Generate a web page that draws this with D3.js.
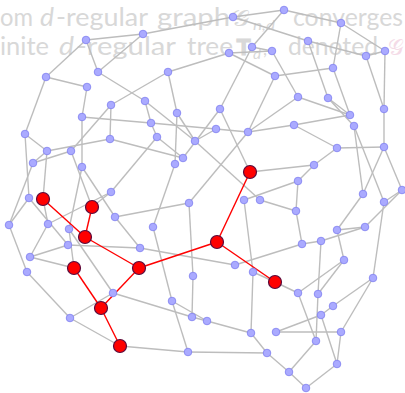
<!DOCTYPE html>
<html>
<head>
<meta charset="utf-8">
<script src="https://cdn.jsdelivr.net/npm/d3@7/dist/d3.min.js"></script>
<style>
  html, body { margin: 0; padding: 0; background: #ffffff; }
  svg { display: block; }
</style>
</head>
<body>
<svg id="chart" width="405" height="393"></svg>
<script>
// Vertex ids and their layout coordinates (layout units)
const nodeIds = ["A","B","C","D","E","F","G","H","I","J","K","L","M","N","O","P","Q","R","S","T","U","V","W","X","Y","Z","a","b","c","d","e","f","g","h","i","j","k","l","m","n","o","p","q",
  "r1","n45","r2","n47","n48","n49","n50","n51","r3","n53","n54","n55","n56","n57","n58","r4","r5","n61","r6","n63","n64","n65","n66","n67","n68","n69","n70","n71","n72","n73","n74","r7","n76","n77","n78","r8","n80","n81","r9","n83","r10","n85","n86","n87","n88","n89","n90","n91","n92","n93","n94","n95","n96","n97","n98","n99","n100"];
const nodeX = [233,284,341,86,143,252,272,229,308,366,385,46,98,87,168,145,111,82,177,151,25,157,110,195,47,71,183,275,333,298,328,220,384,350,354,294,216,248,337,384,33,82,175,
  43,29,92,111,115,9,48,69,85,153,68,140,189,30,27,74,139,193,250,314,298,244,260,296,363,384,402,337,365,302,321,217,344,235,253,275,373,113,101,70,120,172,192,188,298,318,333,321,207,251,276,341,316,267,337,289,306];
const nodeY = [17,10,23,40,34,47,51,53,41,56,51,77,72,87,72,101,105,117,113,123,134,137,139,141,151,151,158,76,68,97,98,109,109,115,126,125,129,132,148,147,163,167,164,
  199,198,207,192,217,225,224,229,237,227,245,248,203,257,272,268,268,276,172,165,181,200,200,211,194,202,190,230,227,244,241,242,260,265,272,282,278,293,308,318,346,301,317,352,293,294,306,315,321,333,332,332,341,353,364,372,388];

// Edges of the d-regular graph
const edgeList = [
  ["A","B"],["A","E"],["A","I"],["B","C"],["B","F"],["C","K"],["C","c"],["D","E"],["D","L"],["D","M"],["E","M"],
  ["F","G"],["F","f"],["G","H"],["G","d"],["H","O"],["H","b"],["I","J"],["I","e"],["J","K"],["J","g"],["K","g"],
  ["L","N"],["L","U"],["M","P"],["N","R"],["R","p"],["R","T"],["T","k"],["P","T"],["T","V"],["Q","O"],["Q","W"],["Q","Z"],
  ["W","Y"],["W","a"],["U","Y"],["P","X"],["V","a"],["O","S"],["S","X"],["S","q"],["a","f"],["k","X"],["k","l"],["l","j"],
  ["l","b"],["l","d"],["b","c"],["f","r6"],["c","h"],["d","h"],["e","h"],["e","i"],["j","h"],["j","m"],["i","n68"],["i","n69"],["g","n"],
  ["m","n"],["n","n70"],["n","n68"],["m","n63"],["r6","n63"],["n63","n64"],["n64","n65"],["n64","n67"],["n66","n67"],["n67","n73"],["X","n66"],
  ["V","n47"],["Y","o"],["Z","o"],["o","n49"],["n45","n49"],["n45","n54"],["U","n45"],["r1","Y"],["r1","n50"],["n47","n50"],
  ["r2","n47"],["r2","Z"],["p","n51"],["p","n48"],["n48","n56"],["n48","n55"],["n54","n55"],["n54","n57"],["n50","n57"],
  ["n57","r4"],["r4","n51"],["n55","n77"],["n49","n58"],["n58","n83"],["n83","r10"],["n83","n81"],["n81","n51"],["n81","n86"],
  ["r10","n87"],["n56","l"],["n56","n61"],["n61","n86"],["q","n53"],["n53","n85"],["n85","n92"],["n86","n92"],["n85","n87"],
  ["n87","n97"],["n65","n78"],["n68","n71"],["n69","n70"],["n70","n72"],["n69","n80"],["n71","n72"],["n72","n74"],["n73","n74"],
  ["n73","n77"],["n74","n89"],["n71","n76"],["r8","n88"],["r8","n78"],["n78","n93"],["n92","n93"],["n93","n97"],["n97","n99"],
  ["n99","n100"],["n99","n96"],["n100","n98"],["n98","n91"],["n98","n95"],["n94","n95"],["n94","n91"],["n91","n90"],["n90","n80"],
  ["n88","n96"],["n89","n96"],["n76","n88"],["n76","n89"],["n95","n80"]
];

// Radius-2 ball around the root vertex
const ballNodes = ["r1","r2","r3","r4","r5","r6","r7","r8","r9","r10"];
const ballEdges = [["r1","r3"],["r2","r3"],["r3","r5"],["r5","r7"],["r7","r6"],["r7","r8"],["r5","r9"],["r4","r9"],["r9","r10"]];

// Slide text behind the figure: word, start, span, style, line
const textWords = [
  ["om", 0, 33, "n", 0], ["d", 40, 14, "i", 0], ["-regular", 56, 92, "n", 0], ["graph", 157, 73, "n", 0],
  ["𝒢", 231, 19, "s", 0], ["n,d", 253, 22, "sub", 0], ["converges", 293, 110, "n", 0],
  ["inite", 0, 49, "n", 1], ["d", 59, 15, "i", 1], ["-regular", 76, 100, "n", 1], ["tree", 187, 46, "n", 1],
  ["𝐓", 236, 15, "b", 1], ["d", 253, 8, "sub", 1], [",", 263, 4, "c", 1], ["denoted", 288, 90, "n", 1], ["𝒢", 388, 16, "pink", 1]
];

const W = 405, H = 393;
const svg = d3.select("#chart");
const x = d3.scaleLinear().domain([0, 405]).range([0, W]);
const y = d3.scaleLinear().domain([0, 393]).range([0, H]);

const pos = new Map(nodeIds.map((id, i) => [id, {x: nodeX[i], y: nodeY[i]}]));

// text layer
const baselines = [26, 55];
const fontSize = s => s === "sub" ? 14 : s === "c" ? 18 : (s === "s" || s === "pink" || s === "b") ? 22 : 25;
svg.append("g").attr("font-family", "Lato, 'DejaVu Sans', sans-serif").attr("fill", "#d8d8d8")
  .selectAll("text").data(textWords).join("text")
  .attr("x", d => d[1])
  .attr("y", d => baselines[d[4]] + (d[3] === "sub" ? 4 : 0))
  .attr("font-family", d => (d[3] === "s" || d[3] === "pink" || d[3] === "b") ? "'DejaVu Sans', sans-serif" : null)
  .attr("font-size", d => fontSize(d[3]))
  .attr("font-style", d => (d[3] === "i" || d[3] === "sub") ? "italic" : "normal")
  .attr("font-weight", d => d[3] === "b" ? "bold" : "normal")
  .attr("fill", d => d[3] === "pink" ? "#f4dbe7" : null)
  .attr("textLength", d => d[2])
  .attr("lengthAdjust", "spacingAndGlyphs")
  .text(d => d[0]);

// gray edges
svg.append("g").selectAll("line").data(edgeList).join("line")
  .attr("x1", d => x(pos.get(d[0]).x)).attr("y1", d => y(pos.get(d[0]).y))
  .attr("x2", d => x(pos.get(d[1]).x)).attr("y2", d => y(pos.get(d[1]).y))
  .attr("stroke", "#bdbdbd").attr("stroke-width", 1.4);

// ball edges
svg.append("g").selectAll("line").data(ballEdges).join("line")
  .attr("x1", d => x(pos.get(d[0]).x)).attr("y1", d => y(pos.get(d[0]).y))
  .attr("x2", d => x(pos.get(d[1]).x)).attr("y2", d => y(pos.get(d[1]).y))
  .attr("stroke", "#ff0000").attr("stroke-width", 1.4);

const ballSet = new Set(ballNodes);
// ordinary vertices
svg.append("g").selectAll("circle").data(nodeIds.filter(id => !ballSet.has(id))).join("circle")
  .attr("cx", d => x(pos.get(d).x)).attr("cy", d => y(pos.get(d).y)).attr("r", 3.8)
  .attr("fill", "#aaaaff").attr("stroke", "#7f7ff0").attr("stroke-width", 0.8);
// ball vertices
svg.append("g").selectAll("circle").data(ballNodes).join("circle")
  .attr("cx", d => x(pos.get(d).x)).attr("cy", d => y(pos.get(d).y)).attr("r", 6.5)
  .attr("fill", "#ff0000").attr("stroke", "#5a0a3c").attr("stroke-width", 1.2);
</script>
</body>
</html>
